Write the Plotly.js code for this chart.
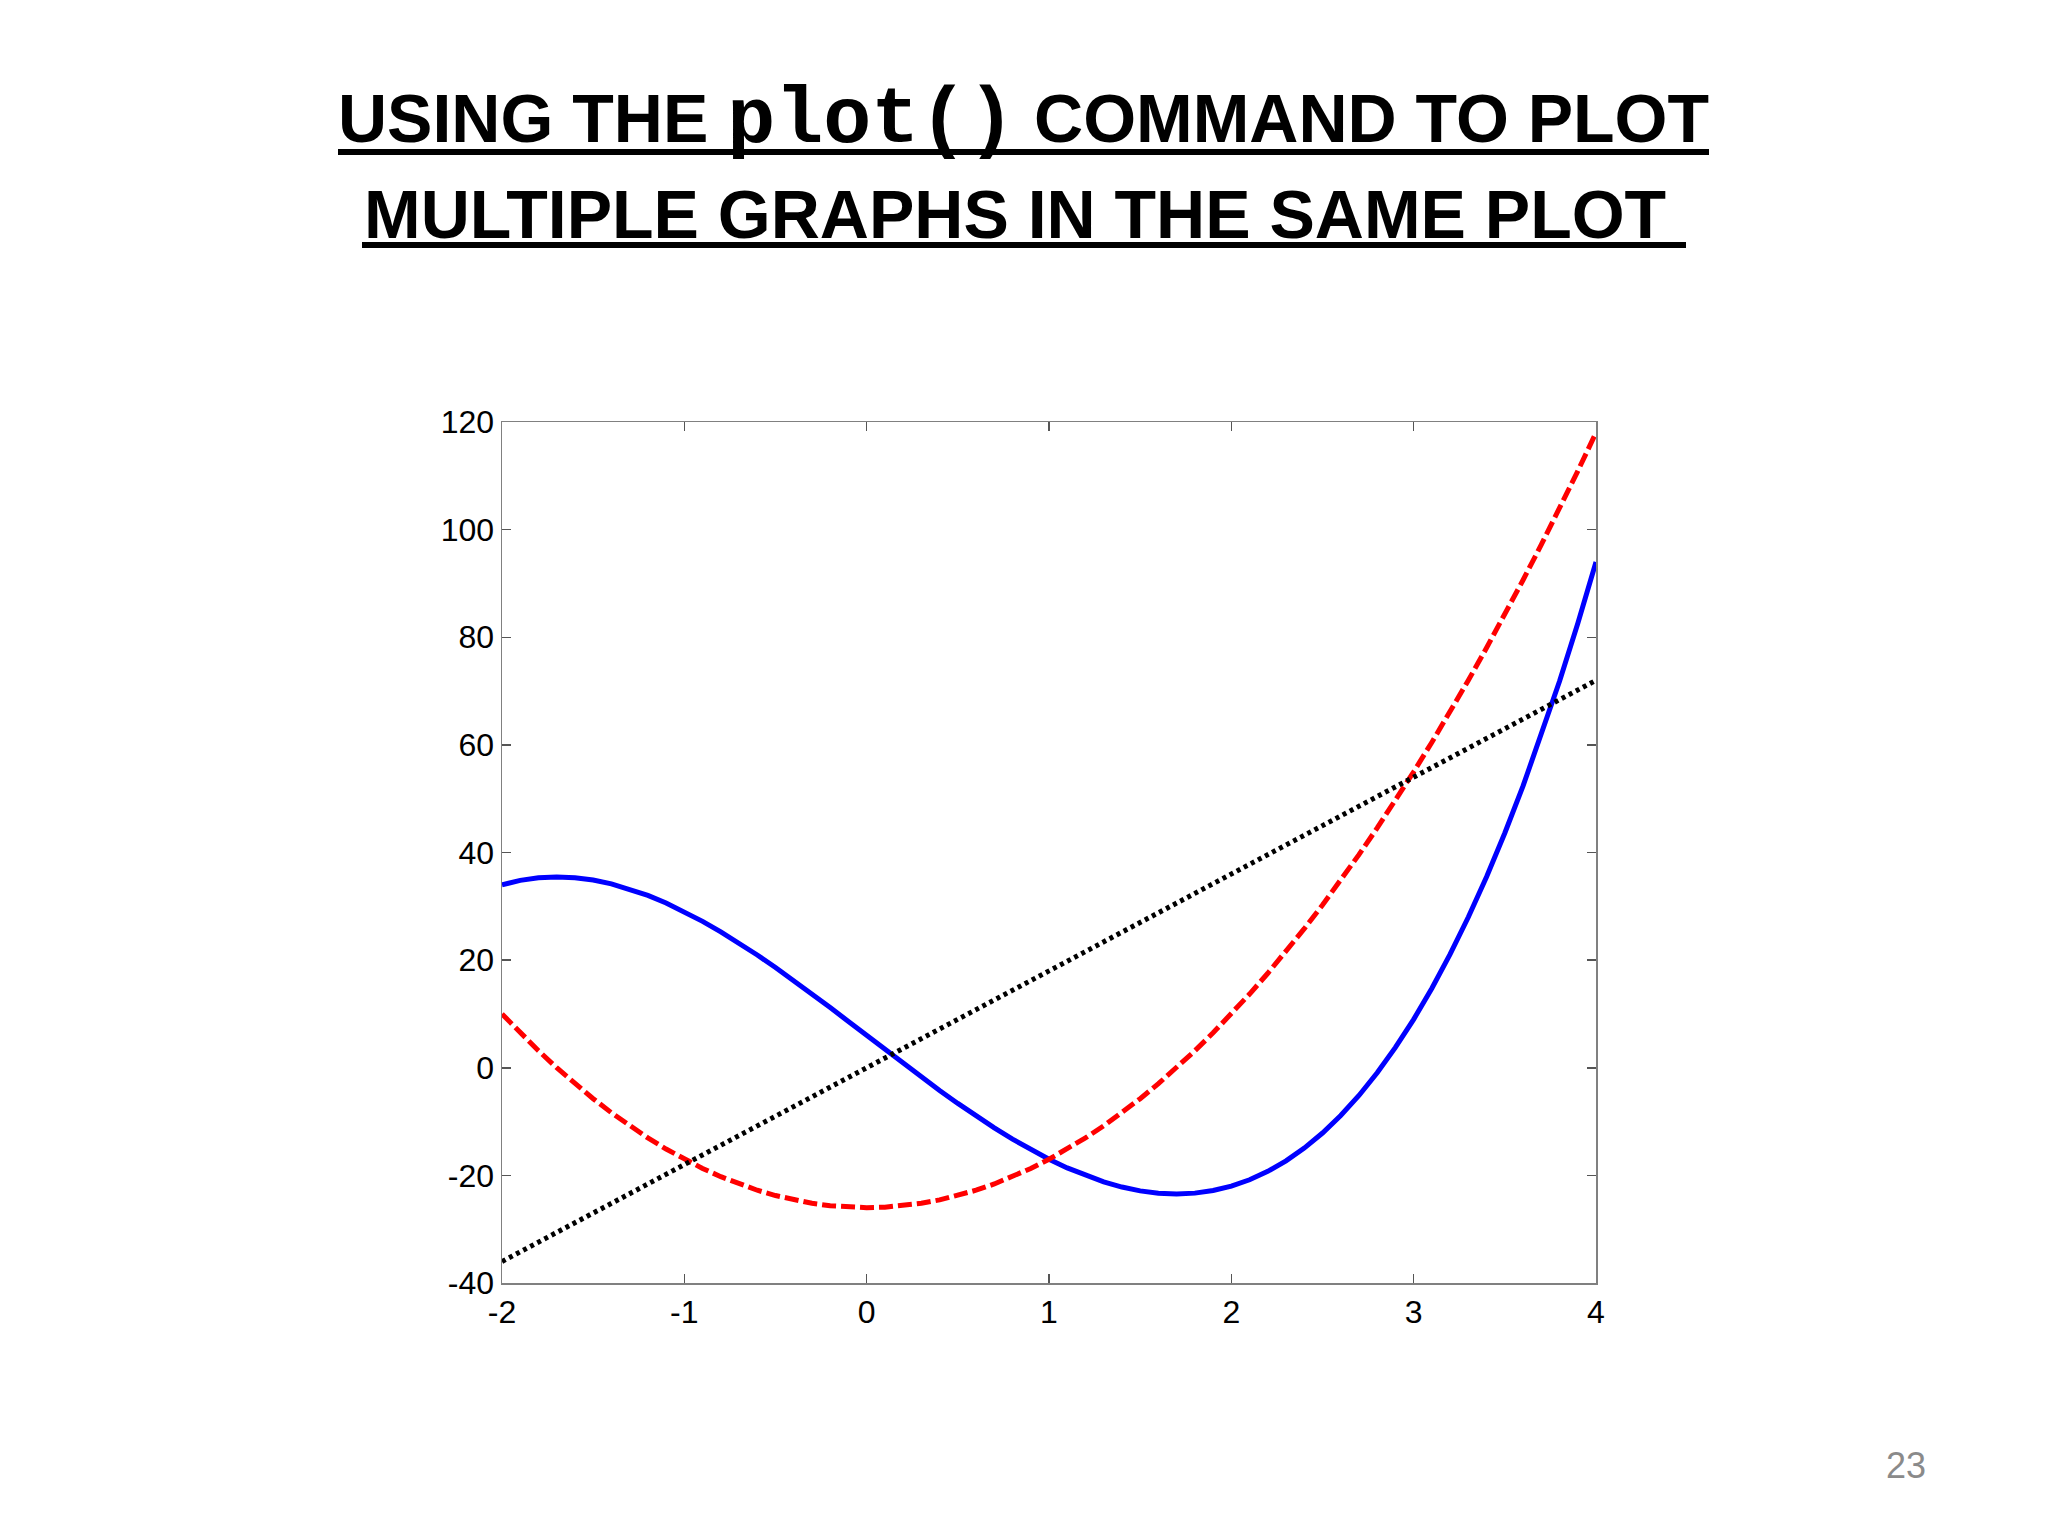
<!DOCTYPE html>
<html>
<head>
<meta charset="utf-8">
<script src="https://cdn.plot.ly/plotly-3.0.1.min.js"></script>
<style>html,body{margin:0;padding:0;background:#fff;}#chart{width:2048px;height:1536px;}</style>
</head>
<body>
<div id="chart"></div>
<script>
// ---- data (x from -2 to 4) ----
var xValues = [-2.0,-1.9,-1.8,-1.7,-1.6,-1.5,-1.4,-1.3,-1.2,-1.1,-1.0,-0.9,-0.8,-0.7,-0.6,-0.5,-0.4,-0.3,-0.2,-0.1,
  0.0,0.1,0.2,0.3,0.4,0.5,0.6,0.7,0.8,0.9,1.0,1.1,1.2,1.3,1.4,1.5,1.6,1.7,1.8,1.9,
  2.0,2.1,2.2,2.3,2.4,2.5,2.6,2.7,2.8,2.9,3.0,3.1,3.2,3.3,3.4,3.5,3.6,3.7,3.8,3.9,4.0];

var blueY = [34.0,34.82,35.30,35.46,35.31,34.88,34.17,33.21,32.02,30.61,29.0,27.21,25.26,23.17,20.95,18.63,16.21,13.72,11.18,8.60,
  6.0,3.40,0.82,-1.72,-4.21,-6.63,-8.95,-11.17,-13.26,-15.21,-17.0,-18.61,-20.02,-21.21,-22.17,-22.88,-23.31,-23.46,-23.30,-22.82,
  -22.0,-20.82,-19.26,-17.30,-14.93,-12.13,-8.87,-5.15,-0.94,3.77,9.0,14.77,21.10,28.01,35.51,43.63,52.37,61.76,71.82,82.56,94.0];

var redY = [10.0,6.49,3.16,0.01,-2.96,-5.75,-8.36,-10.79,-13.04,-15.11,-17.0,-18.71,-20.24,-21.59,-22.76,-23.75,-24.56,-25.19,-25.64,-25.91,
  -26.0,-25.91,-25.64,-25.19,-24.56,-23.75,-22.76,-21.59,-20.24,-18.71,-17.0,-15.11,-13.04,-10.79,-8.36,-5.75,-2.96,0.01,3.16,6.49,
  10.0,13.69,17.56,21.61,25.84,30.25,34.84,39.61,44.56,49.69,55.0,60.49,66.16,72.01,78.04,84.25,90.64,97.21,103.96,110.89,118.0];

var blackY = [-36.0,-34.2,-32.4,-30.6,-28.8,-27.0,-25.2,-23.4,-21.6,-19.8,-18.0,-16.2,-14.4,-12.6,-10.8,-9.0,-7.2,-5.4,-3.6,-1.8,
  0.0,1.8,3.6,5.4,7.2,9.0,10.8,12.6,14.4,16.2,18.0,19.8,21.6,23.4,25.2,27.0,28.8,30.6,32.4,34.2,
  36.0,37.8,39.6,41.4,43.2,45.0,46.8,48.6,50.4,52.2,54.0,55.8,57.6,59.4,61.2,63.0,64.8,66.6,68.4,70.2,72.0];

var xTicks = [-2,-1,0,1,2,3,4];
var yTicks = [-40,-20,0,20,40,60,80,100,120];

var titleLine1 = 'USING THE <span style="font-family:\'Liberation Mono\',\'Courier New\',monospace;font-size:80px;">plot()</span> COMMAND TO PLOT';
var titleLine2 = 'MULTIPLE GRAPHS IN THE SAME PLOT';
var pageNumber = '23';

// ---- layout helpers (pixel -> paper) ----
var L = 502, R = 1596, T = 422, B = 1283;
function px(x){ return (x - L) / (R - L); }
function py(y){ return (B - y) / (B - T); }

var traces = [
  {x: xValues, y: blueY, mode: 'lines', line: {color: '#0000ff', width: 5}},
  {x: xValues, y: redY, mode: 'lines', line: {color: '#ff0000', width: 5, dash: '14px,5px'}},
  {x: xValues, y: blackY, mode: 'lines', line: {color: '#000000', width: 5, dash: '4px,4px'}}
];

var axisCommon = {
  showgrid: false, zeroline: false, showline: true, linecolor: '#808080', linewidth: 1.5,
  mirror: 'ticks', ticks: 'inside', ticklen: 9, tickwidth: 1.5, tickcolor: '#555',
  tickfont: {family: 'Liberation Sans, Arial, sans-serif', size: 32, color: '#000'}
};

var layout = {
  width: 2048, height: 1536,
  margin: {l: L, r: 2048 - R, t: T, b: 1536 - B, pad: 0},
  paper_bgcolor: '#ffffff', plot_bgcolor: '#ffffff',
  showlegend: false,
  xaxis: Object.assign({}, axisCommon, {range: [-2, 4], tickvals: xTicks, ticktext: xTicks.map(String)}),
  yaxis: Object.assign({}, axisCommon, {range: [-40, 120], tickvals: yTicks, ticktext: yTicks.map(String)}),
  annotations: [
    {text: titleLine1, xref: 'paper', yref: 'paper', x: px(1023), y: py(120), xanchor: 'center', yanchor: 'middle',
     showarrow: false, font: {family: 'Liberation Sans, Arial, sans-serif', size: 68, color: '#000', weight: 'bold'}},
    {text: titleLine2, xref: 'paper', yref: 'paper', x: px(1015), y: py(214), xanchor: 'center', yanchor: 'middle',
     showarrow: false, font: {family: 'Liberation Sans, Arial, sans-serif', size: 68, color: '#000', weight: 'bold'}},
    {text: pageNumber, xref: 'paper', yref: 'paper', x: px(1906), y: py(1465), xanchor: 'center', yanchor: 'middle',
     showarrow: false, font: {family: 'Liberation Sans, Arial, sans-serif', size: 36, color: '#8a8a8a'}}
  ],
  shapes: [
    {type: 'line', xref: 'paper', yref: 'paper', x0: px(338), x1: px(1709), y0: py(152), y1: py(152), line: {color: '#000', width: 6}},
    {type: 'line', xref: 'paper', yref: 'paper', x0: px(362), x1: px(1686), y0: py(245), y1: py(245), line: {color: '#000', width: 6}}
  ]
};

Plotly.newPlot('chart', traces, layout, {staticPlot: true, displayModeBar: false});
</script>
</body>
</html>
